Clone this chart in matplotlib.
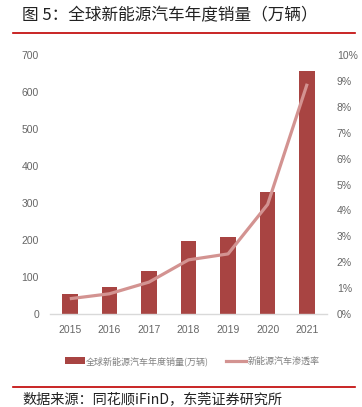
import matplotlib
matplotlib.use("Agg")
import matplotlib.pyplot as plt
from matplotlib.lines import Line2D
from matplotlib.patches import Patch

plt.rcParams['font.family'] = ['Noto Sans CJK SC', 'DejaVu Sans']

years = ['2015', '2016', '2017', '2018', '2019', '2020', '2021']
sales = [54, 74, 116, 197, 209, 330, 658]
penetration = [0.59, 0.78, 1.23, 2.09, 2.32, 4.23, 8.89]
left_ticks = [0, 100, 200, 300, 400, 500, 600, 700]
right_ticks = [0, 1, 2, 3, 4, 5, 6, 7, 8, 9, 10]

bar_color = '#A84442'
line_color = '#D39391'
tick_color = '#666666'

W, H = 362, 407
fig = plt.figure(figsize=(W / 100, H / 100), dpi=100)
ax = fig.add_axes([50 / W, 1 - 314 / H, 277 / W, 259 / H])
x = list(range(len(years)))
ax.bar(x, sales, width=0.39, color=bar_color, zorder=2)
ax.set_xlim(-0.5, 6.5)
ax.set_ylim(0, 700)
ax.set_yticks(left_ticks)
ax.set_xticks(x)
ax.set_xticklabels(years)
tick_family = ['Liberation Sans Narrow', 'Liberation Sans', 'DejaVu Sans']
for lab in ax.get_xticklabels() + ax.get_yticklabels():
    lab.set_fontfamily(tick_family)
    lab.set_fontsize(7.5)
ax.tick_params(axis='both', length=0, colors=tick_color)
ax.tick_params(axis='y', pad=8)
ax.tick_params(axis='x', pad=8)
for s in ['top', 'right', 'left']:
    ax.spines[s].set_visible(False)
ax.spines['bottom'].set_color('#D9D9D9')
ax.spines['bottom'].set_linewidth(1.0)

ax2 = ax.twinx()
ax2.plot(x, penetration, color=line_color, linewidth=2.3, zorder=3, solid_capstyle='butt')
ax2.set_ylim(0, 10)
ax2.set_yticks(right_ticks)
ax2.set_yticklabels([f'{t}%' for t in right_ticks])
for lab in ax2.get_yticklabels():
    lab.set_fontfamily(tick_family)
    lab.set_fontsize(7.5)
ax2.tick_params(axis='y', length=0, colors=tick_color, pad=7)
for s in ['top', 'right', 'left', 'bottom']:
    ax2.spines[s].set_visible(False)

handles = [Patch(facecolor=bar_color, edgecolor='none'),
           Line2D([0], [0], color=line_color, linewidth=2.3)]
labels = ['全球新能源汽车年度销量(万辆)', '新能源汽车渗透率']
leg = fig.legend(handles, labels, loc='center', bbox_to_anchor=(192 / W, 1 - 361 / H),
                 ncol=2, frameon=False, fontsize=6.5, handlelength=2.2, handleheight=0.8,
                 columnspacing=1.9, handletextpad=0.15, borderpad=0.2)
for t in leg.get_texts():
    t.set_color('#808080')

fig.text(22 / W, 1 - 16 / H, '图 5：全球新能源汽车年度销量（万辆）', fontsize=12,
         ha='left', va='center', color='#222222')
fig.add_artist(Line2D([13 / W, 355 / W], [1 - 33 / H, 1 - 33 / H], color='#C00000', linewidth=1.2))
fig.add_artist(Line2D([13 / W, 355 / W], [1 - 387 / H, 1 - 387 / H], color='#C00000', linewidth=1.2))
fig.text(22 / W, 1 - 399 / H, '数据来源：同花顺iFinD，东莞证券研究所', fontsize=10.2,
         ha='left', va='center', color='#222222')

fig.savefig('out.png', dpi=100)
